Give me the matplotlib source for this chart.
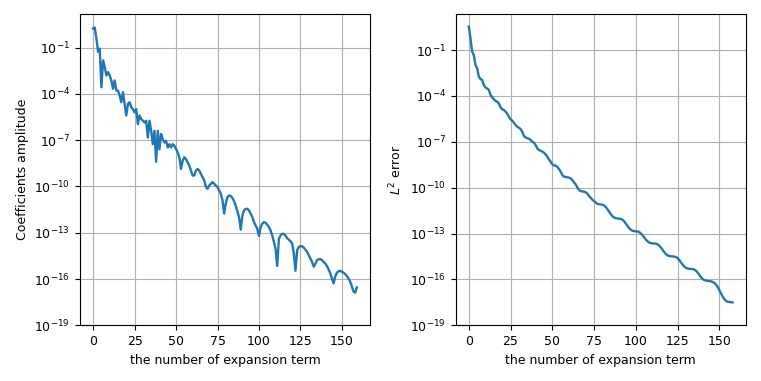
import numpy as np
import matplotlib
matplotlib.use("Agg")
import matplotlib.pyplot as plt
from matplotlib.ticker import NullLocator

# log10 of the expansion coefficient amplitudes, n = 0..159
coef_log10 = [
    0.24, 0.30, -0.41, -1.28, -1.07, -3.57, -1.83, -2.26, -2.80, -2.59,
    -2.80, -3.13, -3.67, -3.13, -3.78, -3.78, -4.10, -4.54, -3.89, -4.65,
    -5.40, -4.65, -4.54, -4.87, -4.98, -5.20, -4.98, -5.96, -5.40, -5.63,
    -5.74, -5.85, -5.74, -6.83, -5.74, -6.39, -7.26, -6.39, -8.40, -6.39,
    -7.60, -6.60, -6.94, -7.15, -7.04, -7.47, -7.26, -7.47, -7.26, -7.36,
    -7.58, -7.79, -8.11, -8.86, -8.33, -8.11, -8.22, -8.44, -8.65, -8.97,
    -9.29, -9.29, -8.97, -8.86, -8.97, -9.19, -9.40, -9.61, -10.04, -10.15,
    -9.94, -9.83, -9.72, -9.83, -9.94, -10.04, -10.26, -10.47, -10.90, -11.76,
    -11.10, -10.69, -10.58, -10.62, -10.75, -10.95, -11.25, -11.60, -12.00, -12.80,
    -11.88, -11.55, -11.45, -11.45, -11.55, -11.77, -11.99, -12.31, -12.53, -12.75,
    -13.20, -12.63, -12.42, -12.31, -12.35, -12.48, -12.63, -12.85, -13.17, -13.60,
    -14.04, -15.15, -13.39, -13.17, -13.06, -13.08, -13.18, -13.35, -13.45, -13.55,
    -13.70, -14.35, -15.46, -14.14, -13.92, -13.86, -13.88, -13.96, -14.09, -14.24,
    -14.46, -14.67, -14.89, -15.20, -15.00, -14.78, -14.71, -14.71, -14.78, -14.89,
    -15.00, -15.16, -15.38, -15.64, -15.96, -16.28, -15.81, -15.59, -15.49, -15.46,
    -15.53, -15.59, -15.68, -15.81, -15.96, -16.17, -16.49, -16.81, -16.88, -16.54,
]

# log10 of the L2 error, n = 0..158
err_log10 = [
    0.53, -0.24, -1.11, -1.33, -1.98, -2.20, -2.74, -2.90, -2.96, -3.29,
    -3.46, -3.51, -3.61, -3.94, -4.09, -4.22, -4.33, -4.38, -4.49, -4.75,
    -4.88, -4.92, -5.03, -5.18, -5.36, -5.53, -5.62, -5.75, -5.90, -6.01,
    -6.08, -6.16, -6.34, -6.62, -6.71, -6.77, -6.80, -6.88, -6.99, -7.06,
    -7.21, -7.43, -7.54, -7.58, -7.64, -7.71, -7.82, -7.97, -8.15, -8.30,
    -8.47, -8.54, -8.56, -8.63, -8.78, -8.95, -9.17, -9.28, -9.30, -9.32,
    -9.34, -9.39, -9.50, -9.65, -9.78, -9.98, -10.15, -10.22, -10.24, -10.26,
    -10.30, -10.39, -10.54, -10.66, -10.78, -10.88, -10.97, -11.05, -11.08, -11.09,
    -11.11, -11.16, -11.26, -11.40, -11.56, -11.72, -11.86, -11.95, -11.99, -12.01,
    -12.02, -12.04, -12.09, -12.19, -12.34, -12.50, -12.64, -12.75, -12.81, -12.84,
    -12.85, -12.86, -12.90, -12.98, -13.10, -13.24, -13.38, -13.50, -13.58, -13.62,
    -13.64, -13.65, -13.66, -13.70, -13.78, -13.90, -14.05, -14.20, -14.33, -14.42,
    -14.46, -14.48, -14.49, -14.50, -14.53, -14.60, -14.72, -14.87, -15.02, -15.15,
    -15.24, -15.28, -15.30, -15.31, -15.32, -15.35, -15.42, -15.54, -15.69, -15.84,
    -15.97, -16.04, -16.07, -16.09, -16.10, -16.12, -16.16, -16.22, -16.32, -16.48,
    -16.68, -16.90, -17.10, -17.28, -17.40, -17.45, -17.47, -17.49, -17.50,
]

xticks = [0, 25, 50, 75, 100, 125, 150]
yticks = [1e-19, 1e-16, 1e-13, 1e-10, 1e-7, 1e-4, 1e-1]

plt.rcParams['font.size'] = 9

coef = 10.0 ** np.array(coef_log10)
err = 10.0 ** np.array(err_log10)

fig, (ax1, ax2) = plt.subplots(1, 2, figsize=(7.61, 3.81), dpi=100)
fig.subplots_adjust(left=0.105, right=0.98, bottom=0.146, top=0.963, wspace=0.295)

ax1.semilogy(np.arange(len(coef)), coef, color="tab:blue", lw=1.7)
ax1.set_ylim(1e-19, 10 ** 1.17)
ax1.set_ylabel("Coefficients amplitude")

ax2.semilogy(np.arange(len(err)), err, color="tab:blue", lw=1.7)
ax2.set_ylim(1e-19, 10 ** 1.35)
ax2.set_ylabel("$L^2$ error")

for ax in (ax1, ax2):
    ax.set_xticks(xticks)
    ax.set_yticks(yticks)
    ax.yaxis.set_minor_locator(NullLocator())
    ax.set_xlabel("the number of expansion term")
    ax.grid(True)

fig.savefig("out.png", dpi=100)
